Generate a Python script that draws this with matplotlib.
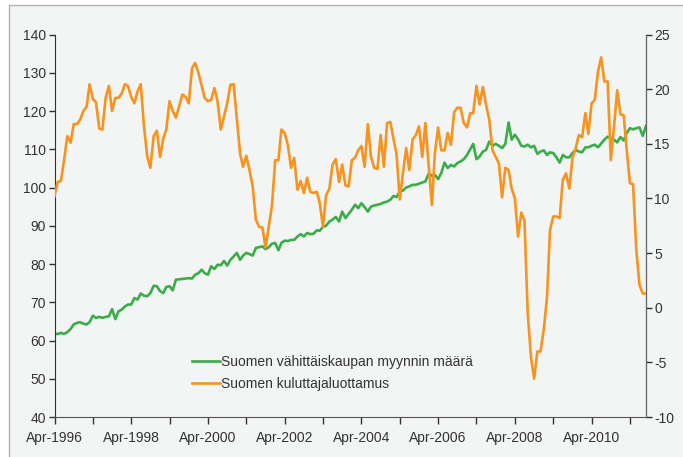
import pandas as pd
import matplotlib
matplotlib.use('Agg')
import matplotlib.pyplot as plt
from matplotlib.patches import Rectangle

# data (monthly, Apr-1996 .. Sep-2011)

months = pd.date_range('1996-04-01', periods=186, freq='MS')

retail = [
    61.8, 61.7, 62.0, 61.7, 62.2, 63.0, 64.2, 64.6, 64.8, 64.4, 64.2, 64.8,
    66.5, 65.9, 66.2, 65.9, 66.2, 66.3, 68.2, 65.6, 67.6, 68.1, 68.9, 69.4,
    69.4, 71.1, 70.7, 72.3, 71.7, 71.6, 72.4, 74.3, 74.2, 72.9, 72.4, 74.0,
    74.2, 73.1, 75.9, 76.0, 76.1, 76.2, 76.3, 76.2, 77.2, 77.6, 78.5, 77.6,
    77.2, 79.4, 78.7, 79.8, 79.7, 80.8, 79.6, 81.1, 82.0, 82.9, 81.1, 82.2,
    82.9, 82.6, 82.2, 84.2, 84.4, 84.6, 83.9, 84.4, 85.3, 85.5, 83.6, 85.5,
    86.1, 86.0, 86.3, 86.3, 87.2, 87.8, 87.2, 88.1, 87.8, 87.9, 88.8, 88.7,
    89.7, 90.0, 91.1, 91.6, 92.3, 91.1, 93.7, 92.0, 93.1, 94.2, 95.5, 94.6,
    95.9, 94.9, 93.7, 95.0, 95.3, 95.5, 95.7, 96.1, 96.3, 96.8, 97.8, 97.5,
    99.0, 99.2, 100.0, 100.3, 100.7, 100.7, 101.0, 101.3, 101.6, 103.6, 103.1, 103.3,
    102.2, 103.8, 106.5, 105.1, 105.9, 105.5, 106.4, 106.8, 107.4, 108.5, 110.0, 111.4,
    107.4, 108.1, 109.4, 109.8, 112.0, 110.9, 111.4, 110.9, 110.3, 111.4, 117.0, 112.5,
    113.8, 112.6, 110.9, 110.7, 111.2, 110.5, 110.9, 108.8, 109.4, 109.7, 108.5, 109.2,
    109.0, 107.9, 106.5, 108.5, 107.9, 107.9, 109.0, 109.8, 109.4, 109.2, 110.5, 110.5,
    110.9, 111.2, 110.5, 111.5, 112.5, 113.3, 112.9, 112.5, 111.8, 113.2, 112.3, 114.2,
    115.5, 115.2, 115.5, 115.7, 113.5, 116.1,
]

confidence = [
    10.2, 11.5, 11.6, 13.5, 15.7, 15.1, 16.8, 16.8, 17.2, 18.0, 18.4, 20.45,
    19.1, 18.8, 16.4, 16.3, 19.2, 20.3, 18.0, 19.2, 19.2, 19.6, 20.45, 20.3,
    19.3, 18.7, 19.8, 20.45, 16.6, 13.8, 12.8, 15.7, 16.2, 13.8, 15.5, 16.3,
    18.9, 18.0, 17.4, 18.4, 19.5, 19.3, 18.7, 21.9, 22.4, 21.5, 20.3, 19.2,
    18.9, 19.0, 20.1, 18.9, 16.3, 17.5, 18.7, 20.4, 20.45, 17.3, 14.1, 12.9,
    13.9, 12.6, 11.1, 8.05, 7.4, 7.35, 5.5, 7.4, 9.3, 13.5, 13.5, 16.3,
    16.0, 14.9, 12.8, 13.7, 10.8, 11.6, 10.5, 11.9, 10.6, 10.5, 10.6, 9.6,
    7.4, 10.3, 10.9, 13.1, 13.6, 11.5, 13.1, 11.2, 11.1, 13.5, 13.75, 14.4,
    14.8, 12.9, 16.8, 13.8, 12.8, 12.7, 15.8, 12.9, 16.9, 17.0, 15.4, 14.1,
    9.9, 12.3, 14.6, 12.6, 15.4, 15.8, 16.6, 13.8, 16.9, 13.0, 9.4, 14.1,
    16.5, 14.4, 14.4, 16.0, 14.9, 17.9, 18.3, 18.3, 16.9, 16.5, 17.8, 17.8,
    20.3, 18.6, 20.2, 18.6, 17.2, 14.4, 13.8, 13.2, 10.1, 12.8, 12.6, 10.9,
    10.0, 6.5, 8.7, 8.0, -0.5, -4.5, -6.5, -4.0, -4.0, -2.0, 1.0, 7.1,
    8.35, 8.35, 8.2, 11.7, 12.3, 10.9, 13.7, 14.6, 15.8, 15.6, 17.8, 15.9,
    18.7, 19.0, 21.6, 22.9, 20.7, 20.7, 13.5, 16.6, 19.9, 17.7, 17.6, 14.5,
    11.4, 11.3, 5.3, 2.1, 1.3, 1.3,
]

tick_dates = pd.date_range('1996-04-01', '2011-04-01', freq='12MS')
tick_labels = [d.strftime('%b-%Y') if d.year % 2 == 0 else '' for d in tick_dates]

green = '#3aac48'
orange = '#f7931e'

plt.rcParams['font.family'] = ['Liberation Sans', 'DejaVu Sans']
plt.rcParams['axes.unicode_minus'] = False

fig = plt.figure(figsize=(6.83, 4.57), dpi=100, facecolor='white')
fig.patches.append(Rectangle((9 / 683, -0.1), 2, 1 - 5 / 457 + 0.1,
                             transform=fig.transFigure, facecolor='#f3f5f5',
                             edgecolor='#b3b3b3', linewidth=1, zorder=-10))

ax = fig.add_axes([0.0798, 0.0875, 0.866, 0.837])
ax.set_facecolor('none')
ax2 = ax.twinx()

l1, = ax.plot(months, retail, color=green, lw=1.9, label='Suomen vähittäiskaupan myynnin määrä')
l2, = ax2.plot(months, confidence, color=orange, lw=1.9, label='Suomen kuluttajaluottamus')

ax.set_ylim(40, 140)
ax.set_yticks(range(40, 141, 10))
ax2.set_ylim(-10, 25)
ax2.set_yticks(range(-10, 26, 5))
ax.set_xlim(months[0], months[-1])
ax.set_xticks(tick_dates)
ax.set_xticklabels(tick_labels)

for a in (ax, ax2):
    a.spines['top'].set_visible(False)
    a.tick_params(direction='out', length=4, width=1, colors='#333333',
                  labelsize=10, pad=2)
ax.spines['left'].set_color('#333333')
ax.spines['bottom'].set_color('#555555')
ax2.spines['right'].set_color('#666666')
ax2.spines['left'].set_visible(False)
ax2.spines['bottom'].set_visible(False)
ax.tick_params(axis='x', length=5, pad=5)

fig.legend(handles=[l1, l2], loc='upper left', bbox_to_anchor=(0.263, 0.25),
           frameon=False, fontsize=10, handlelength=2.0, handletextpad=0.1,
           labelspacing=0.55, labelcolor='#333333')

fig.savefig('out.png', dpi=100, facecolor=fig.get_facecolor())
